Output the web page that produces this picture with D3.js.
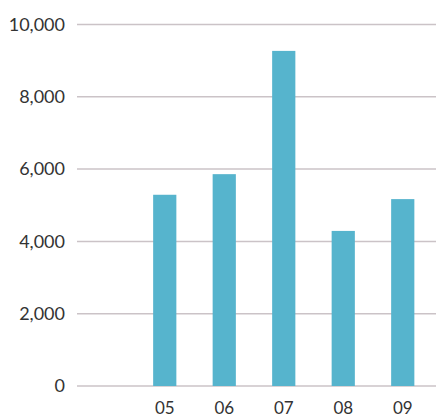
<!DOCTYPE html>
<html>
<head>
<meta charset="UTF-8">
<script src="https://cdn.jsdelivr.net/npm/d3@7"></script>
<style>
	body { margin: 0; background: #fff; }
	text { font-family: Lato, "Noto Sans", sans-serif; fill: #333; }
</style>
</head>
<body>
<svg width="436" height="417"></svg>
<script>
// 数据
var years = ["", "05", "06", "07", "08", "09"];
var values = [null, 5290, 5860, 9270, 4290, 5170];
var yTicks = [0, 2000, 4000, 6000, 8000, 10000];

var svg = d3.select("svg");

var x = d3.scaleBand().domain(years).range([75.5, 432.5])
	.paddingInner(0.61).paddingOuter(0.305);
var y = d3.scaleLinear().domain([0, 10000]).range([386, 24.5]);

// 网格线
svg.selectAll(".grid")
	.data(yTicks)
	.enter()
	.append("line")
	.attr("x1", 77)
	.attr("x2", 436)
	.attr("y1", function(d) { return y(d); })
	.attr("y2", function(d) { return y(d); })
	.style("stroke", "#cbc3c7")
	.style("stroke-width", 1.5);

// y轴文字
svg.selectAll(".ylab")
	.data(yTicks)
	.enter()
	.append("text")
	.attr("x", 65)
	.attr("y", function(d) { return y(d); })
	.attr("dy", "0.35em")
	.attr("text-anchor", "end")
	.style("font-size", "18px")
	.text(function(d) { return d3.format(",")(d); });

// 柱子
svg.selectAll("rect")
	.data(years.filter(function(d, i) { return values[i] != null; }))
	.enter()
	.append("rect")
	.attr("x", function(d) { return x(d); })
	.attr("width", x.bandwidth())
	.attr("y", function(d) { return y(values[years.indexOf(d)]); })
	.attr("height", function(d) { return y(0) - y(values[years.indexOf(d)]); })
	.style("fill", "#56b4cd");

// x轴文字
svg.selectAll(".xlab")
	.data(years.filter(function(d) { return d !== ""; }))
	.enter()
	.append("text")
	.attr("x", function(d) { return x(d) + x.bandwidth() / 2; })
	.attr("y", 414)
	.attr("text-anchor", "middle")
	.style("font-size", "17px")
	.text(function(d) { return d; });
</script>
</body>
</html>
